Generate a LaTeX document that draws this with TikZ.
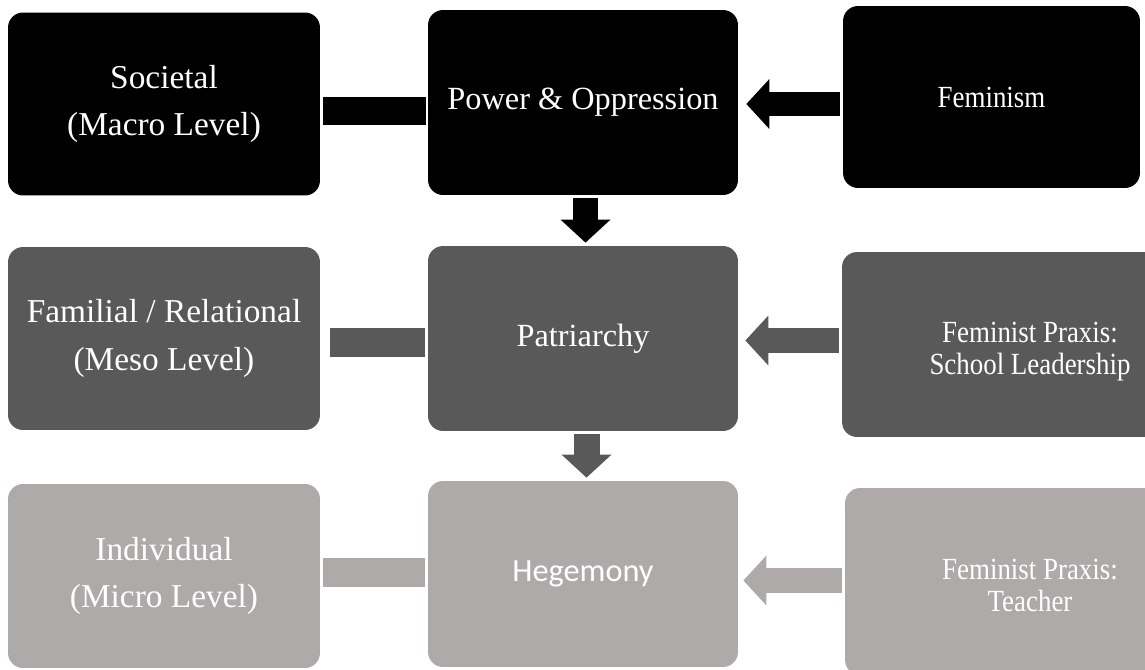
\documentclass[tikz,border=0pt]{standalone}
\usepackage{fontspec}
\usepackage{graphicx}
\setmainfont{Liberation Serif}
\newfontfamily\bodysans{Carlito}
\usetikzlibrary{arrows.meta}
\definecolor{levelA}{HTML}{000000}
\definecolor{levelB}{HTML}{595959}
\definecolor{levelC}{HTML}{AEAAAA}
% condensed lines used in the right-hand column
\newcommand{\narrowline}[1]{\scalebox{0.875}[1]{#1}}
% two condensed lines, lowered a little inside their box
\newcommand{\praxistext}[2]{\raisebox{-4.3pt}[\height][\depth]{\begin{tabular}{@{}c@{}}\narrowline{#1}\\\narrowline{#2}\end{tabular}}}
\begin{document}
\begin{tikzpicture}[x=0.02cm,y=-0.02cm,
  tile/.style={rounded corners=0.3cm, inner sep=0pt, text=white, align=center,
    font=\fontsize{19}{20}\selectfont},
  midtile/.style={tile, font=\fontsize{18.4}{20}\selectfont},
  sidetile/.style={tile, font=\fontsize{17.5}{18}\selectfont},
  bar/.style={line width=#1, line cap=butt},
  blockarrow/.style={line cap=butt, -{Triangle[length=0.46cm,width=0.97cm]}}
]
\useasboundingbox (0,0) rectangle (1145,669);
\clip (0,0) rectangle (1145,669);
\renewcommand{\arraystretch}{1}
\setlength{\tabcolsep}{0pt}

% top row
\node[tile, fill=levelA, minimum width=6.24cm, minimum height=3.66cm] (soc) at (164,104)
  {Societal\\[0.38em](Macro Level)};
\node[midtile, fill=levelA, minimum width=6.2cm, minimum height=3.7cm] (pow) at (583,102.5)
  {Power \& Oppression};
\node[sidetile, fill=levelA, minimum width=5.94cm, minimum height=3.64cm] (fem) at (991.5,97)
  {\narrowline{Feminism}};

% middle row
\node[tile, fill=levelB, minimum width=6.24cm, minimum height=3.66cm] (fam) at (164,338.5)
  {Familial / Relational\\[0.38em](Meso Level)};
\node[midtile, fill=levelB, minimum width=6.2cm, minimum height=3.7cm] (pat) at (583,338.5)
  {Patriarchy};
\node[sidetile, fill=levelB, minimum width=7.52cm, minimum height=3.7cm] (sch) at (1030,344.5)
  {\praxistext{Feminist Praxis:}{School Leadership}};

% bottom row
\node[tile, fill=levelC, minimum width=6.24cm, minimum height=3.68cm] (ind) at (164,576)
  {Individual\\[0.38em](Micro Level)};
\node[midtile, fill=levelC, minimum width=6.2cm, minimum height=3.72cm] (heg) at (583,574)
  {\bodysans Hegemony};
\node[sidetile, fill=levelC, minimum width=7.4cm, minimum height=3.74cm] (tea) at (1030,581.5)
  {\praxistext{Feminist Praxis:}{Teacher}};

% links from the level boxes
\draw[bar=0.58cm, levelA, shorten <=0.06cm, shorten >=0.04cm] ([yshift=-0.14cm]soc.east) -- ([yshift=-0.14cm]pow.west |- soc.east);
\draw[bar=0.58cm, levelB, shorten <=0.2cm, shorten >=0.06cm] ([yshift=-0.08cm]fam.east) -- ([yshift=-0.08cm]pat.west |- fam.east);
\draw[bar=0.58cm, levelC, shorten <=0.06cm, shorten >=0.06cm] ([yshift=0.07cm]ind.east) -- ([yshift=0.07cm]heg.west |- ind.east);

% arrows from the praxis boxes
\draw[blockarrow, levelA, line width=0.5cm, shorten <=0.06cm, shorten >=0.16cm] ([yshift=-0.14cm]fem.west) -- ([yshift=-0.14cm]pow.east |- fem.west);
\draw[blockarrow, levelB, line width=0.5cm, shorten <=0.06cm, shorten >=0.14cm] ([yshift=0.08cm]sch.west) -- ([yshift=0.08cm]pow.east |- sch.west);
\draw[blockarrow, levelC, line width=0.5cm, shorten <=0.06cm, shorten >=0.1cm] ([yshift=0.02cm]tea.west) -- ([yshift=0.02cm]pow.east |- tea.west);

% arrows down the middle column
\draw[blockarrow, levelA, line width=0.5cm, shorten <=0.06cm, shorten >=0.06cm] ([xshift=0.05cm]pow.south) -- ([xshift=0.05cm]pat.north);
\draw[blockarrow, levelB, line width=0.52cm, shorten <=0.06cm, shorten >=0.06cm] ([xshift=0.07cm]pat.south) -- ([xshift=0.07cm]heg.north);
\end{tikzpicture}
\end{document}
